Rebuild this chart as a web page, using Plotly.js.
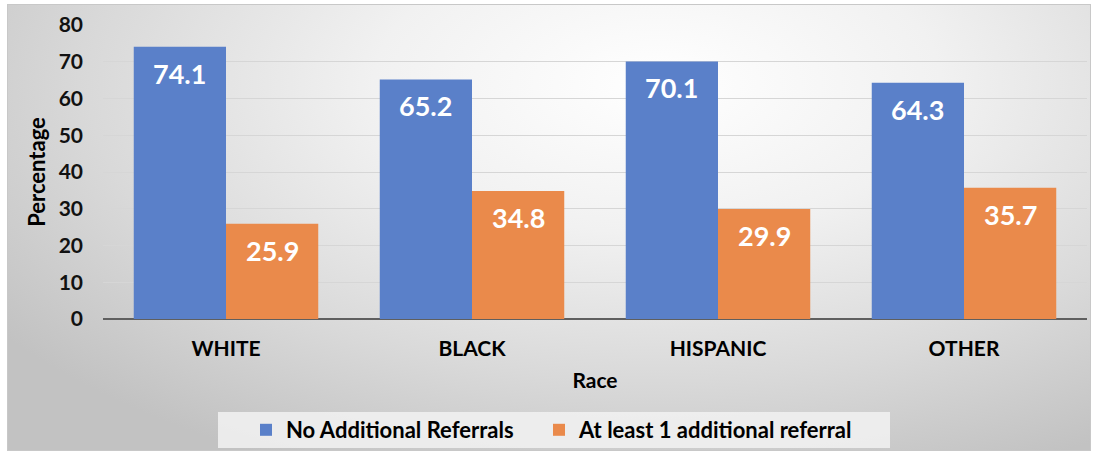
<!DOCTYPE html>
<html>
<head>
<meta charset="utf-8">
<script src="https://cdn.plot.ly/plotly-3.0.1.min.js"></script>
<style>
  html, body { margin: 0; padding: 0; background: #ffffff; }
  #wrap {
    position: relative; width: 1096px; height: 454px; overflow: hidden;
    background: #ffffff;
  }
  #bg {
    position: absolute; left: 7px; top: 4px; width: 1082px; height: 445px;
    border: 1px solid #c8c8c8;
    background: radial-gradient(ellipse 75% 95% at 60% 18%, #ffffff 0%, #f1f1f1 35%, #d9d9d9 70%, #c2c2c2 100%);
  }
  #chart { position: absolute; left: 0; top: 0; width: 1096px; height: 454px; }
</style>
</head>
<body>
<div id="wrap">
  <div id="bg"></div>
  <div id="chart"></div>
</div>
<script>
const categories = ["WHITE", "BLACK", "HISPANIC", "OTHER"];
const seriesNames = ["No Additional Referrals", "At least 1 additional referral"];
const noAdditional = [74.1, 65.2, 70.1, 64.3];
const atLeastOne = [25.9, 34.8, 29.9, 35.7];
const yTicks = [0, 10, 20, 30, 40, 50, 60, 70, 80];

const FONT = "Lato, 'Open Sans', sans-serif";
const colors = ["#5a80c9", "#ea8a4b"];
const seriesValues = [noAdditional, atLeastOne];
const legendIds = ["legend", "legend2"];

const traces = seriesValues.map((vals, i) => ({
  type: "bar",
  name: "<b>" + seriesNames[i] + "</b>",
  x: categories,
  y: vals,
  legend: legendIds[i],
  marker: { color: colors[i], line: { width: 0 } },
  hoverinfo: "skip"
}));

const bargap = 0.25;
const halfBar = (1 - bargap) / 4;
const annotations = [];
seriesValues.forEach((vals, i) => {
  vals.forEach((v, j) => {
    annotations.push({
      x: j + (i === 0 ? -halfBar : halfBar),
      y: v,
      xref: "x", yref: "y",
      text: "<b>" + v.toFixed(1) + "</b>",
      showarrow: false,
      yanchor: "top",
      yshift: -8,
      font: { family: FONT, size: 27, color: "#ffffff" }
    });
  });
});

const plotTop = 25, plotBottom = 319, plotH = plotBottom - plotTop;
const plotLeft = 103, plotW = 984;
function px2paperY(py) { return (plotBottom - py) / plotH; }
function px2paperX(px) { return (px - plotLeft) / plotW; }

const legendCommon = {
  orientation: "h",
  xanchor: "left",
  y: px2paperY(430), yanchor: "middle",
  bgcolor: "rgba(0,0,0,0)",
  font: { family: FONT, size: 22, color: "#000000" },
  itemclick: false, itemdoubleclick: false
};

const layout = {
  width: 1096, height: 454,
  margin: { l: plotLeft, r: 1096 - plotLeft - plotW, t: plotTop, b: 454 - plotBottom, autoexpand: false },
  paper_bgcolor: "rgba(0,0,0,0)",
  plot_bgcolor: "rgba(0,0,0,0)",
  barmode: "group",
  bargap: bargap,
  bargroupgap: 0,
  font: { family: FONT, color: "#000000" },
  xaxis: {
    type: "category",
    tickfont: { family: FONT, size: 21, color: "#000000", weight: "bold" },
    showgrid: false,
    showline: false,
    ticks: "",
    ticklabelstandoff: 15,
    title: { text: "<b>Race</b>", font: { family: FONT, size: 21, color: "#000000" }, standoff: 14 }
  },
  yaxis: {
    range: [0, 80],
    tickvals: yTicks,
    ticktext: yTicks.map(String),
    tickfont: { family: FONT, size: 21, color: "#111111", weight: "bold" },
    showgrid: true,
    gridcolor: "#d6d6d6",
    gridwidth: 1,
    zeroline: true,
    zerolinecolor: "#5f5f5f",
    zerolinewidth: 1.5,
    showline: false,
    ticks: "",
    ticklabelstandoff: 19,
    title: { text: "<b>Percentage</b>", font: { family: FONT, size: 22, color: "#000000" }, standoff: 6 }
  },
  showlegend: true,
  legend: Object.assign({}, legendCommon, { x: px2paperX(246) }),
  legend2: Object.assign({}, legendCommon, { x: px2paperX(539) }),
  shapes: [{
    type: "rect", xref: "paper", yref: "paper",
    x0: px2paperX(218), x1: px2paperX(890),
    y0: px2paperY(448), y1: px2paperY(412),
    fillcolor: "rgba(242,242,242,0.85)",
    line: { width: 0 },
    layer: "below"
  }],
  annotations: annotations
};

Plotly.newPlot("chart", traces, layout, { staticPlot: true, displayModeBar: false });
</script>
</body>
</html>
